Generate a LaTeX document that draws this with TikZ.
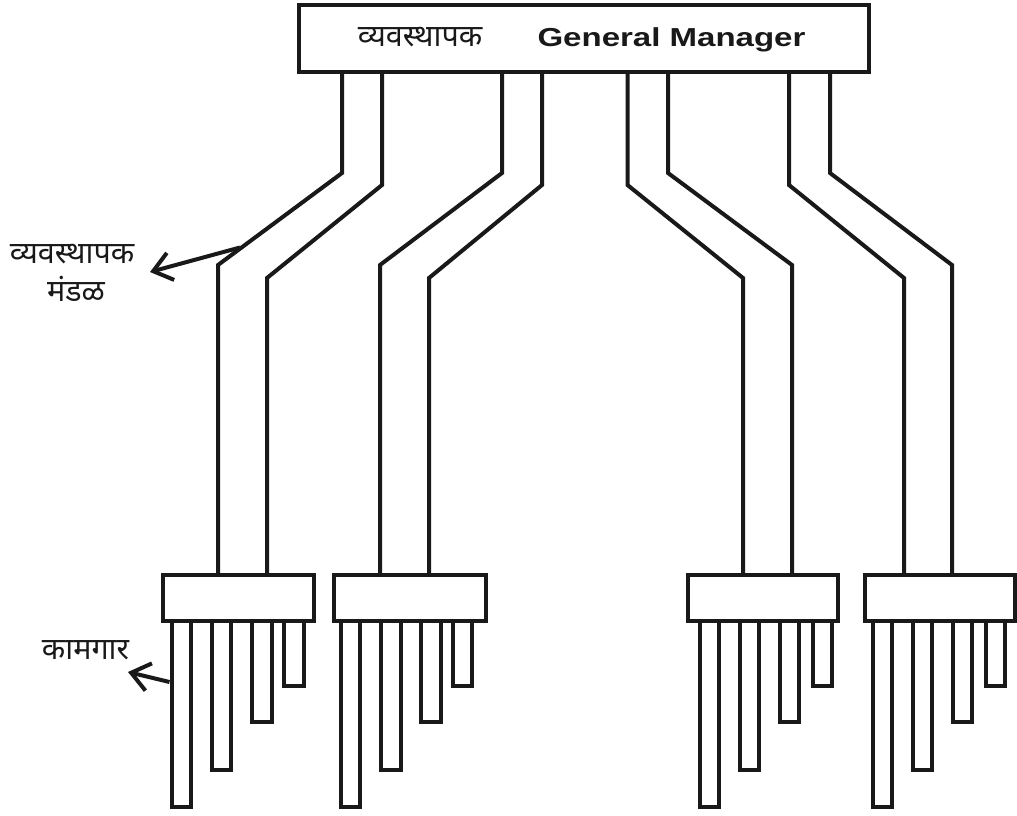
\documentclass[tikz,border=0pt]{standalone}
\usepackage{fontspec}
\setmainfont{Liberation Sans}
\newfontfamily\deva[Script=Devanagari]{Noto Sans}
\usetikzlibrary{arrows.meta}
\tikzset{
  ln/.style={line width=4pt, line join=miter, black!90},
  boxnode/.style={draw, line width=4pt, black!90, inner sep=0pt, fill=white},
  bar/.style={draw, line width=4pt, black!90, fill=white},
  arr/.style={line width=4pt, black!90, -{Straight Barb[length=18pt,width=28pt]}},
  dtext/.style={font=\deva\fontsize{30.5}{34}\selectfont, inner sep=0pt, text=black!90},
  gmtext/.style={font=\bfseries\fontsize{26}{30}\selectfont, inner sep=0pt, text=black!90}
}
\begin{document}
\begin{tikzpicture}[x=1pt,y=-1pt]
\useasboundingbox (0,0) rectangle (1017,816);
% top box
\node[boxnode, minimum width=570pt, minimum height=67pt] (gm) at (584,38.5) {};
\node[dtext, anchor=base] (gmd) at (420,46.5) {व्यवस्थापक};
\node[gmtext, anchor=base] (gme) at (671.5,47) {\scalebox{1.27}[1]{General Manager}};
% bars (drawn before boxes so box border covers tops)
\foreach \a/\b in {171.5/807, 211.5/769.5, 252/722, 284/686,
                   340.5/807, 381/769.5, 421/722, 452.5/686,
                   699.5/807, 739.5/770, 779.5/722, 812.5/686,
                   872.5/807, 912.5/770, 952.5/722, 985.5/686}
  \draw[bar] (\a,615) rectangle (\a+19.5,\b);
% bottom boxes
\node[boxnode, minimum width=151pt, minimum height=46pt] (b1) at (238.5,598) {};
\node[boxnode, minimum width=152pt, minimum height=46pt] (b2) at (410,598) {};
\node[boxnode, minimum width=150pt, minimum height=46pt] (b3) at (763,598) {};
\node[boxnode, minimum width=150pt, minimum height=46pt] (b4) at (940,598) {};
% connectors
\foreach \tx/\by/\bx/\dy/\bn in {342/173/218/265/b1, 382/185/267/278/b1, 502/173/380/265/b2, 542/185/429/278/b2, 627.5/185/743/278/b3, 668/173/792/265/b3, 789/185/904/278/b4, 830/173/952/265/b4}
  \draw[ln] (\tx,0 |- gm.south) -- (\tx,\by) -- (\bx,\dy) -- (\bx,0 |- \bn.north);
% labels
\node[dtext, anchor=base] (lblA) at (72,263.5) {व्यवस्थापक};
\node[dtext, anchor=base] (lblB) at (76,301.5) {मंडळ};
\node[dtext, anchor=base] (lblC) at (85.5,659.5) {कामगार};
\coordinate (a1s) at (240,247.5);
\coordinate (a1e) at (150,272);
\coordinate (a2s) at (169.5,682);
\coordinate (a2e) at (128,672);
\draw[arr] (a1s) -- (a1e);
\draw[arr] (a2s) -- (a2e);
\end{tikzpicture}
\end{document}
